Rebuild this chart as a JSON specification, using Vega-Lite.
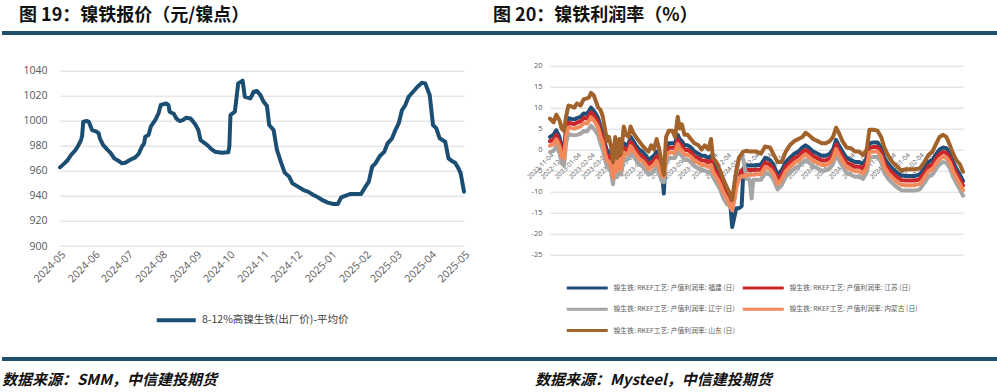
{
"$schema": "https://vega.github.io/schema/vega-lite/v6.json",
"background": "white",
"padding": {"left": 0, "top": 7, "right": 0, "bottom": 0},
"config": {
  "view": {"stroke": null},
  "font": "Open Sans, Noto Sans CJK SC, sans-serif",
  "axis": {"domain": false, "ticks": false, "gridColor": "#D9D9D9", "gridWidth": 1, "labelColor": "#595959", "title": null, "labelFlush": false, "labelOverlap": false}
},
"bounds": "flush",
"spacing": 32.7,
"vconcat": [
  {
    "hconcat": [
      {
        "width": 493, "height": 0,
        "title": {"text": "图 19：镍铁报价（元/镍点）", "anchor": "start", "dx": 19, "offset": 6, "fontSize": 18, "font": "Noto Sans CJK SC", "fontWeight": "bold", "color": "#111111"},
        "data": {"values": [{}]},
        "mark": {"type": "rule", "color": "#1F4E6E", "strokeWidth": 4},
        "encoding": {"y": {"datum": 0, "type": "quantitative", "axis": null}}
      },
      {
        "width": 504, "height": 0,
        "title": {"text": "图 20：镍铁利润率（%）", "anchor": "start", "offset": 6, "fontSize": 18, "font": "Noto Sans CJK SC", "fontWeight": "bold", "color": "#111111"},
        "data": {"values": [{}]},
        "mark": {"type": "rule", "color": "#1F4E6E", "strokeWidth": 4},
        "encoding": {"y": {"datum": 0, "type": "quantitative", "axis": null}}
      }
    ],
    "spacing": 0,
    "bounds": "flush"
  },
  {
    "bounds": "flush",
    "spacing": 293.3,
    "vconcat": [
      {
        "bounds": "flush",
        "spacing": 0,
        "hconcat": [
          {"width": 58, "height": 188.6, "data": {"values": []}, "mark": "point"},
          {
            "bounds": "flush",
            "spacing": 86,
            "resolve": {"scale": {"color": "independent"}, "legend": {"color": "independent"}},
            "hconcat": [
              {
                "width": 404, "height": 180.3,
                "data": {"values": [
{"d":"2024-05-01","v":962.8},{"d":"2024-05-05","v":966},{"d":"2024-05-08","v":968.7},{"d":"2024-05-11","v":972.7},{"d":"2024-05-15","v":976.7},{"d":"2024-05-17","v":979.3},{"d":"2024-05-20","v":984.6},{"d":"2024-05-21","v":988},{"d":"2024-05-22","v":999.3},{"d":"2024-05-25","v":999.8},{"d":"2024-05-27","v":999.3},{"d":"2024-05-30","v":992.6},{"d":"2024-06-03","v":991.3},{"d":"2024-06-05","v":990},{"d":"2024-06-06","v":986},{"d":"2024-06-09","v":980.6},{"d":"2024-06-13","v":976.7},{"d":"2024-06-16","v":974},{"d":"2024-06-19","v":970},{"d":"2024-06-23","v":967.9},{"d":"2024-06-26","v":966},{"d":"2024-06-29","v":966.5},{"d":"2024-07-03","v":968.7},{"d":"2024-07-08","v":970.8},{"d":"2024-07-11","v":973.5},{"d":"2024-07-14","v":979.3},{"d":"2024-07-16","v":982},{"d":"2024-07-17","v":987.3},{"d":"2024-07-20","v":988.6},{"d":"2024-07-22","v":995.3},{"d":"2024-07-26","v":1000.6},{"d":"2024-07-29","v":1005.9},{"d":"2024-07-31","v":1012.6},{"d":"2024-08-05","v":1013.9},{"d":"2024-08-07","v":1012.6},{"d":"2024-08-08","v":1007.3},{"d":"2024-08-12","v":1005.4},{"d":"2024-08-14","v":1001.9},{"d":"2024-08-17","v":999.8},{"d":"2024-08-20","v":1000.6},{"d":"2024-08-23","v":1002.5},{"d":"2024-08-27","v":1001.9},{"d":"2024-08-31","v":997.4},{"d":"2024-09-03","v":992.6},{"d":"2024-09-05","v":984.6},{"d":"2024-09-09","v":982},{"d":"2024-09-12","v":979.8},{"d":"2024-09-15","v":977.2},{"d":"2024-09-18","v":975.3},{"d":"2024-09-24","v":974.5},{"d":"2024-09-30","v":974.8},{"d":"2024-10-01","v":979.3},{"d":"2024-10-02","v":1004.6},{"d":"2024-10-06","v":1007.3},{"d":"2024-10-09","v":1029.9},{"d":"2024-10-13","v":1032},{"d":"2024-10-15","v":1019.2},{"d":"2024-10-20","v":1017.9},{"d":"2024-10-23","v":1023.2},{"d":"2024-10-26","v":1023.8},{"d":"2024-10-29","v":1020.6},{"d":"2024-11-01","v":1015.2},{"d":"2024-11-04","v":1011.8},{"d":"2024-11-06","v":996.6},{"d":"2024-11-10","v":992.6},{"d":"2024-11-13","v":976.7},{"d":"2024-11-17","v":966},{"d":"2024-11-20","v":958.6},{"d":"2024-11-24","v":955.4},{"d":"2024-11-27","v":950},{"d":"2024-12-02","v":947.4},{"d":"2024-12-07","v":944.7},{"d":"2024-12-11","v":943.4},{"d":"2024-12-16","v":940.7},{"d":"2024-12-20","v":938.9},{"d":"2024-12-25","v":936.2},{"d":"2024-12-29","v":934.6},{"d":"2025-01-03","v":933.5},{"d":"2025-01-07","v":933.5},{"d":"2025-01-10","v":938.9},{"d":"2025-01-13","v":939.9},{"d":"2025-01-18","v":941.5},{"d":"2025-01-22","v":941.5},{"d":"2025-01-28","v":941.5},{"d":"2025-01-31","v":946},{"d":"2025-02-04","v":951.4},{"d":"2025-02-07","v":963.3},{"d":"2025-02-10","v":966},{"d":"2025-02-14","v":971.9},{"d":"2025-02-18","v":975.3},{"d":"2025-02-21","v":982},{"d":"2025-02-25","v":986},{"d":"2025-02-28","v":992.6},{"d":"2025-03-03","v":997.9},{"d":"2025-03-06","v":1008.6},{"d":"2025-03-09","v":1012.6},{"d":"2025-03-12","v":1019.2},{"d":"2025-03-16","v":1023.2},{"d":"2025-03-20","v":1027.2},{"d":"2025-03-24","v":1030.4},{"d":"2025-03-27","v":1029.9},{"d":"2025-03-31","v":1020.6},{"d":"2025-04-03","v":996.6},{"d":"2025-04-06","v":994},{"d":"2025-04-09","v":986},{"d":"2025-04-14","v":983.3},{"d":"2025-04-17","v":970},{"d":"2025-04-20","v":967.9},{"d":"2025-04-23","v":966.5},{"d":"2025-04-26","v":962},{"d":"2025-04-28","v":958},{"d":"2025-05-01","v":943.4}
                ]},
                "mark": {"type": "line", "strokeWidth": 4, "strokeJoin": "round", "strokeCap": "round"},
                "encoding": {
                  "x": {"field": "d", "type": "temporal",
                    "scale": {"type": "utc", "domain": [{"year": 2024, "month": 5, "date": 1, "utc": true}, {"year": 2025, "month": 5, "date": 1, "utc": true}]},
                    "axis": {"grid": false, "format": "%Y-%m", "labelAngle": -45, "labelFontSize": 10.5, "labelPadding": 3,
                      "values": [{"year":2024,"month":5,"date":1,"utc":true},{"year":2024,"month":6,"date":1,"utc":true},{"year":2024,"month":7,"date":1,"utc":true},{"year":2024,"month":8,"date":1,"utc":true},{"year":2024,"month":9,"date":1,"utc":true},{"year":2024,"month":10,"date":1,"utc":true},{"year":2024,"month":11,"date":1,"utc":true},{"year":2024,"month":12,"date":1,"utc":true},{"year":2025,"month":1,"date":1,"utc":true},{"year":2025,"month":2,"date":1,"utc":true},{"year":2025,"month":3,"date":1,"utc":true},{"year":2025,"month":4,"date":1,"utc":true},{"year":2025,"month":5,"date":1,"utc":true}]}},
                  "y": {"field": "v", "type": "quantitative",
                    "scale": {"domain": [900, 1044], "nice": false, "zero": false},
                    "axis": {"values": [900, 920, 940, 960, 980, 1000, 1020, 1040], "format": "d", "labelFontSize": 10.5, "labelPadding": 13}},
                  "color": {"datum": "8-12%高镍生铁(出厂价)-平均价", "type": "nominal",
                    "scale": {"range": ["#1B4E73"]},
                    "legend": {"orient": "none", "legendX": 114, "legendY": 242.5, "title": null, "symbolType": "M-3,0H1", "symbolSize": 380, "symbolStrokeWidth": 4, "labelFontSize": 10.5, "labelColor": "#404040", "labelOffset": 4, "labelFont": "Noto Sans CJK SC"}}
                }
              },
              {
                "width": 413, "height": 188.6,
                "data": {"values": [
{"d":"2022-11-04","fj":3.0,"js":2.0,"ln":-0.6,"nm":0.9,"sd":7.4},
{"d":"2022-11-12","fj":3.5,"js":2.4,"ln":-0.3,"nm":1.3,"sd":6.5},
{"d":"2022-11-18","fj":4.6,"js":3.5,"ln":0.8,"nm":2.4,"sd":8.3},
{"d":"2022-11-25","fj":3.0,"js":1.9,"ln":-0.8,"nm":0.8,"sd":7.0},
{"d":"2022-11-30","fj":0.5,"js":-0.6,"ln":-3.3,"nm":-1.7,"sd":5.0},
{"d":"2022-12-05","fj":0.0,"js":-1.1,"ln":-3.8,"nm":-2.2,"sd":4.5},
{"d":"2022-12-10","fj":5.5,"js":4.4,"ln":1.7,"nm":3.3,"sd":8.0},
{"d":"2022-12-15","fj":7.5,"js":6.4,"ln":3.7,"nm":5.3,"sd":10.5},
{"d":"2022-12-22","fj":7.3,"js":6.2,"ln":3.5,"nm":5.1,"sd":10.3},
{"d":"2022-12-28","fj":7.2,"js":6.1,"ln":3.4,"nm":5.0,"sd":10.0},
{"d":"2023-01-03","fj":7.5,"js":6.4,"ln":3.5,"nm":5.2,"sd":11.0},
{"d":"2023-01-11","fj":7.8,"js":6.7,"ln":3.8,"nm":5.5,"sd":10.5},
{"d":"2023-01-18","fj":8.6,"js":7.5,"ln":4.4,"nm":6.3,"sd":12.0},
{"d":"2023-01-25","fj":8.5,"js":7.4,"ln":4.3,"nm":6.2,"sd":12.2},
{"d":"2023-01-30","fj":9.2,"js":8.1,"ln":5.0,"nm":6.9,"sd":12.5},
{"d":"2023-02-03","fj":10.0,"js":8.9,"ln":5.7,"nm":7.7,"sd":13.5},
{"d":"2023-02-09","fj":9.3,"js":8.2,"ln":5.0,"nm":7.0,"sd":13.0},
{"d":"2023-02-14","fj":8.5,"js":7.4,"ln":4.3,"nm":6.2,"sd":11.5},
{"d":"2023-02-19","fj":7.5,"js":6.4,"ln":3.4,"nm":5.2,"sd":10.0},
{"d":"2023-02-24","fj":5.5,"js":4.4,"ln":1.5,"nm":3.2,"sd":9.5},
{"d":"2023-03-01","fj":4.0,"js":2.9,"ln":0.1,"nm":1.7,"sd":8.0},
{"d":"2023-03-06","fj":1.5,"js":0.4,"ln":-2.3,"nm":-0.8,"sd":5.0},
{"d":"2023-03-11","fj":-0.5,"js":-1.6,"ln":-4.2,"nm":-2.8,"sd":2.0},
{"d":"2023-03-15","fj":-0.5,"js":-1.6,"ln":-4.1,"nm":-2.8,"sd":3.0},
{"d":"2023-03-20","fj":-2.0,"js":-3.1,"ln":-5.6,"nm":-4.3,"sd":0.5},
{"d":"2023-03-24","fj":-4.5,"js":-5.6,"ln":-8.3,"nm":-6.8,"sd":-3.0},
{"d":"2023-03-29","fj":-0.5,"js":-1.6,"ln":-4.0,"nm":-2.7,"sd":3.0},
{"d":"2023-04-02","fj":-3.0,"js":-4.1,"ln":-6.6,"nm":-5.2,"sd":-2.0},
{"d":"2023-04-07","fj":0.0,"js":-1.1,"ln":-3.5,"nm":-2.2,"sd":2.5},
{"d":"2023-04-11","fj":-2.5,"js":-3.6,"ln":-6.0,"nm":-4.7,"sd":-1.0},
{"d":"2023-04-17","fj":1.5,"js":0.4,"ln":-2.0,"nm":-0.7,"sd":5.5},
{"d":"2023-04-22","fj":1.0,"js":-0.1,"ln":-2.5,"nm":-1.2,"sd":3.5},
{"d":"2023-04-28","fj":1.5,"js":0.4,"ln":-2.0,"nm":-0.7,"sd":3.0},
{"d":"2023-05-02","fj":3.0,"js":1.9,"ln":-0.5,"nm":0.8,"sd":5.5},
{"d":"2023-05-08","fj":2.0,"js":0.9,"ln":-1.5,"nm":-0.2,"sd":4.0},
{"d":"2023-05-14","fj":1.0,"js":-0.1,"ln":-2.5,"nm":-1.2,"sd":3.0},
{"d":"2023-05-21","fj":0.0,"js":-1.1,"ln":-3.5,"nm":-2.2,"sd":2.0},
{"d":"2023-05-28","fj":-0.5,"js":-1.6,"ln":-4.0,"nm":-2.7,"sd":1.0},
{"d":"2023-06-05","fj":-1.5,"js":-2.6,"ln":-5.0,"nm":-3.7,"sd":0.0},
{"d":"2023-06-11","fj":-2.5,"js":-3.6,"ln":-6.0,"nm":-4.7,"sd":-0.5},
{"d":"2023-06-17","fj":-2.0,"js":-3.1,"ln":-5.5,"nm":-4.2,"sd":1.0},
{"d":"2023-06-23","fj":-1.5,"js":-2.6,"ln":-5.0,"nm":-3.7,"sd":0.0},
{"d":"2023-06-29","fj":-0.5,"js":-1.6,"ln":-4.0,"nm":-2.7,"sd":2.5},
{"d":"2023-07-04","fj":-2.0,"js":-3.1,"ln":-5.5,"nm":-4.2,"sd":0.5},
{"d":"2023-07-10","fj":-4.0,"js":-5.1,"ln":-7.5,"nm":-6.2,"sd":-3.0},
{"d":"2023-07-15","fj":-10.5,"js":-5.5,"ln":-7.8,"nm":-6.5,"sd":-6.0},
{"d":"2023-07-20","fj":0.5,"js":-0.6,"ln":-3.0,"nm":-1.7,"sd":3.0},
{"d":"2023-07-26","fj":1.5,"js":0.4,"ln":-2.0,"nm":-0.7,"sd":4.5},
{"d":"2023-08-03","fj":1.5,"js":0.4,"ln":-2.0,"nm":-0.7,"sd":4.5},
{"d":"2023-08-09","fj":1.5,"js":0.4,"ln":-2.0,"nm":-0.7,"sd":3.0},
{"d":"2023-08-15","fj":3.5,"js":2.4,"ln":0.0,"nm":1.3,"sd":7.8},
{"d":"2023-08-19","fj":2.5,"js":1.4,"ln":-1.0,"nm":0.3,"sd":5.0},
{"d":"2023-08-24","fj":2.0,"js":0.9,"ln":-1.5,"nm":-0.2,"sd":6.0},
{"d":"2023-08-30","fj":1.0,"js":-0.1,"ln":-2.5,"nm":-1.2,"sd":3.5},
{"d":"2023-09-06","fj":1.0,"js":-0.1,"ln":-2.5,"nm":-1.2,"sd":3.5},
{"d":"2023-09-13","fj":0.5,"js":-0.6,"ln":-3.0,"nm":-1.7,"sd":2.5},
{"d":"2023-09-21","fj":-0.5,"js":-1.6,"ln":-4.0,"nm":-2.7,"sd":1.5},
{"d":"2023-09-30","fj":-1.0,"js":-2.1,"ln":-4.5,"nm":-3.2,"sd":1.0},
{"d":"2023-10-07","fj":-1.5,"js":-2.6,"ln":-5.0,"nm":-3.7,"sd":0.0},
{"d":"2023-10-14","fj":-1.5,"js":-2.6,"ln":-5.0,"nm":-3.7,"sd":1.0},
{"d":"2023-10-22","fj":-2.0,"js":-3.1,"ln":-5.5,"nm":-4.2,"sd":0.0},
{"d":"2023-10-28","fj":-1.5,"js":-2.6,"ln":-5.0,"nm":-3.7,"sd":2.5},
{"d":"2023-11-01","fj":-3.0,"js":-4.1,"ln":-6.5,"nm":-5.2,"sd":-2.0},
{"d":"2023-11-09","fj":-4.5,"js":-5.6,"ln":-8.0,"nm":-6.7,"sd":-3.0},
{"d":"2023-11-17","fj":-6.0,"js":-7.1,"ln":-9.5,"nm":-8.2,"sd":-5.0},
{"d":"2023-11-24","fj":-8.0,"js":-9.1,"ln":-11.5,"nm":-10.2,"sd":-7.0},
{"d":"2023-12-02","fj":-9.5,"js":-10.6,"ln":-13.0,"nm":-11.7,"sd":-9.0},
{"d":"2023-12-09","fj":-12.0,"js":-12.0,"ln":-13.5,"nm":-13.5,"sd":-10.5},
{"d":"2023-12-14","fj":-18.5,"js":-12.5,"ln":-13.5,"nm":-14.5,"sd":-12.0},
{"d":"2023-12-19","fj":-16.0,"js":-11.0,"ln":-10.5,"nm":-12.0,"sd":-8.0},
{"d":"2023-12-23","fj":-14.0,"js":-8.0,"ln":-6.0,"nm":-9.0,"sd":-5.0},
{"d":"2023-12-29","fj":-14.0,"js":-6.0,"ln":-2.0,"nm":-7.0,"sd":-2.0},
{"d":"2024-01-04","fj":-13.5,"js":-5.0,"ln":-1.5,"nm":-6.3,"sd":-1.0},
{"d":"2024-01-08","fj":-4.5,"js":-5.5,"ln":-2.5,"nm":-6.5,"sd":-0.5},
{"d":"2024-01-15","fj":-3.8,"js":-4.9,"ln":-7.0,"nm":-6.0,"sd":-0.3},
{"d":"2024-01-22","fj":-3.8,"js":-4.9,"ln":-7.3,"nm":-6.0,"sd":-0.5},
{"d":"2024-01-26","fj":-3.8,"js":-4.9,"ln":-11.7,"nm":-6.0,"sd":-0.5},
{"d":"2024-01-30","fj":-3.8,"js":-4.9,"ln":-7.2,"nm":-6.0,"sd":-0.5},
{"d":"2024-02-06","fj":-3.7,"js":-4.8,"ln":-7.2,"nm":-5.9,"sd":-0.5},
{"d":"2024-02-16","fj":-3.7,"js":-4.8,"ln":-7.2,"nm":-5.9,"sd":-1.0},
{"d":"2024-02-25","fj":-2.0,"js":-3.1,"ln":-5.5,"nm":-4.2,"sd":0.7},
{"d":"2024-03-07","fj":-2.5,"js":-3.6,"ln":-6.0,"nm":-4.7,"sd":0.5},
{"d":"2024-03-14","fj":-3.5,"js":-4.6,"ln":-7.0,"nm":-5.7,"sd":-1.0},
{"d":"2024-03-24","fj":-6.0,"js":-7.1,"ln":-9.5,"nm":-8.2,"sd":-3.0},
{"d":"2024-04-02","fj":-5.0,"js":-6.1,"ln":-8.5,"nm":-7.2,"sd":-3.0},
{"d":"2024-04-11","fj":-3.0,"js":-4.1,"ln":-6.5,"nm":-5.2,"sd":-0.5},
{"d":"2024-04-20","fj":-2.0,"js":-3.1,"ln":-5.5,"nm":-4.2,"sd":1.0},
{"d":"2024-04-30","fj":-1.0,"js":-2.1,"ln":-4.5,"nm":-3.2,"sd":2.0},
{"d":"2024-05-09","fj":-0.5,"js":-1.6,"ln":-4.0,"nm":-2.7,"sd":2.5},
{"d":"2024-05-18","fj":0.5,"js":-0.6,"ln":-3.0,"nm":-1.7,"sd":3.0},
{"d":"2024-05-25","fj":1.0,"js":-0.1,"ln":-2.5,"nm":-1.2,"sd":4.0},
{"d":"2024-06-01","fj":0.5,"js":-0.6,"ln":-3.0,"nm":-1.7,"sd":3.5},
{"d":"2024-06-11","fj":-0.5,"js":-1.6,"ln":-4.0,"nm":-2.7,"sd":2.5},
{"d":"2024-06-21","fj":-1.0,"js":-2.1,"ln":-4.5,"nm":-3.2,"sd":2.0},
{"d":"2024-06-30","fj":-1.5,"js":-2.6,"ln":-5.0,"nm":-3.7,"sd":1.5},
{"d":"2024-07-09","fj":-1.5,"js":-2.6,"ln":-5.0,"nm":-3.7,"sd":1.5},
{"d":"2024-07-18","fj":-1.0,"js":-2.1,"ln":-4.5,"nm":-3.2,"sd":2.0},
{"d":"2024-07-25","fj":0.0,"js":-1.1,"ln":-3.5,"nm":-2.2,"sd":3.0},
{"d":"2024-08-01","fj":2.3,"js":1.2,"ln":-1.2,"nm":0.1,"sd":5.2},
{"d":"2024-08-07","fj":1.0,"js":-0.1,"ln":-2.5,"nm":-1.2,"sd":4.0},
{"d":"2024-08-15","fj":-0.5,"js":-1.6,"ln":-4.0,"nm":-2.7,"sd":2.0},
{"d":"2024-08-24","fj":-2.0,"js":-3.1,"ln":-5.5,"nm":-4.2,"sd":0.5},
{"d":"2024-09-03","fj":-2.5,"js":-3.6,"ln":-6.0,"nm":-4.7,"sd":0.3},
{"d":"2024-09-12","fj":-3.0,"js":-4.1,"ln":-6.5,"nm":-5.2,"sd":-0.5},
{"d":"2024-09-21","fj":-3.0,"js":-4.1,"ln":-6.5,"nm":-5.2,"sd":-0.5},
{"d":"2024-09-30","fj":-3.5,"js":-4.6,"ln":-7.0,"nm":-5.7,"sd":-1.3},
{"d":"2024-10-08","fj":-2.0,"js":-3.1,"ln":-5.5,"nm":-4.2,"sd":0.0},
{"d":"2024-10-14","fj":1.5,"js":0.4,"ln":-2.0,"nm":-0.7,"sd":4.7},
{"d":"2024-10-23","fj":1.7,"js":0.6,"ln":-1.8,"nm":-0.5,"sd":4.7},
{"d":"2024-11-01","fj":1.7,"js":0.6,"ln":-1.8,"nm":-0.5,"sd":4.5},
{"d":"2024-11-09","fj":0.5,"js":-0.6,"ln":-3.0,"nm":-1.7,"sd":3.0},
{"d":"2024-11-16","fj":-2.0,"js":-3.1,"ln":-5.5,"nm":-4.2,"sd":0.5},
{"d":"2024-11-25","fj":-3.5,"js":-4.6,"ln":-7.0,"nm":-5.7,"sd":-1.5},
{"d":"2024-12-04","fj":-4.5,"js":-5.6,"ln":-8.0,"nm":-6.7,"sd":-3.0},
{"d":"2024-12-14","fj":-5.5,"js":-6.6,"ln":-9.0,"nm":-7.7,"sd":-4.0},
{"d":"2024-12-24","fj":-6.2,"js":-7.3,"ln":-9.7,"nm":-8.4,"sd":-5.0},
{"d":"2025-01-03","fj":-6.3,"js":-7.4,"ln":-9.8,"nm":-8.5,"sd":-4.7},
{"d":"2025-01-12","fj":-6.3,"js":-7.4,"ln":-9.8,"nm":-8.5,"sd":-4.7},
{"d":"2025-01-23","fj":-6.3,"js":-7.4,"ln":-9.8,"nm":-8.5,"sd":-4.7},
{"d":"2025-02-03","fj":-6.0,"js":-7.1,"ln":-9.5,"nm":-8.2,"sd":-4.5},
{"d":"2025-02-13","fj":-4.5,"js":-5.6,"ln":-8.0,"nm":-6.7,"sd":-3.0},
{"d":"2025-02-22","fj":-3.0,"js":-4.1,"ln":-6.5,"nm":-5.2,"sd":-1.3},
{"d":"2025-03-03","fj":-2.5,"js":-3.6,"ln":-6.0,"nm":-4.7,"sd":-0.5},
{"d":"2025-03-12","fj":-1.0,"js":-2.1,"ln":-4.5,"nm":-3.2,"sd":1.5},
{"d":"2025-03-19","fj":0.0,"js":-1.1,"ln":-3.5,"nm":-2.2,"sd":3.0},
{"d":"2025-03-27","fj":0.5,"js":-0.6,"ln":-3.0,"nm":-1.7,"sd":3.5},
{"d":"2025-04-03","fj":0.3,"js":-0.8,"ln":-3.2,"nm":-1.9,"sd":3.0},
{"d":"2025-04-11","fj":-1.0,"js":-2.1,"ln":-4.5,"nm":-3.2,"sd":1.0},
{"d":"2025-04-18","fj":-3.0,"js":-4.1,"ln":-6.5,"nm":-5.2,"sd":-1.0},
{"d":"2025-04-25","fj":-4.5,"js":-5.6,"ln":-8.0,"nm":-6.7,"sd":-2.5},
{"d":"2025-05-03","fj":-6.0,"js":-7.1,"ln":-9.5,"nm":-8.2,"sd":-3.5},
{"d":"2025-05-10","fj":-7.5,"js":-8.6,"ln":-11.0,"nm":-9.7,"sd":-5.3}
                ]},
                "transform": [{"fold": ["fj", "js", "ln", "nm", "sd"], "as": ["k", "v"]}],
                "mark": {"type": "line", "strokeWidth": 4, "strokeJoin": "round", "strokeCap": "round"},
                "encoding": {
                  "x": {"field": "d", "type": "temporal",
                    "scale": {"type": "utc", "domain": [{"year": 2022, "month": 11, "date": 4, "utc": true}, {"year": 2025, "month": 5, "date": 10, "utc": true}]},
                    "axis": {"grid": false, "format": "%Y-%m-%d", "labelAngle": -45, "labelFontSize": 6.5, "labelPadding": 2, "offset": -104.8, "zindex": 0,
                      "values": [{"year":2022,"month":11,"date":4,"utc":true},{"year":2022,"month":12,"date":4,"utc":true},{"year":2023,"month":1,"date":4,"utc":true},{"year":2023,"month":2,"date":4,"utc":true},{"year":2023,"month":3,"date":4,"utc":true},{"year":2023,"month":4,"date":4,"utc":true},{"year":2023,"month":5,"date":4,"utc":true},{"year":2023,"month":6,"date":4,"utc":true},{"year":2023,"month":7,"date":4,"utc":true},{"year":2023,"month":8,"date":4,"utc":true},{"year":2023,"month":9,"date":4,"utc":true},{"year":2023,"month":10,"date":4,"utc":true},{"year":2023,"month":11,"date":4,"utc":true},{"year":2023,"month":12,"date":4,"utc":true},{"year":2024,"month":1,"date":4,"utc":true},{"year":2024,"month":2,"date":4,"utc":true},{"year":2024,"month":3,"date":4,"utc":true},{"year":2024,"month":4,"date":4,"utc":true},{"year":2024,"month":5,"date":4,"utc":true},{"year":2024,"month":6,"date":4,"utc":true},{"year":2024,"month":7,"date":4,"utc":true},{"year":2024,"month":8,"date":4,"utc":true},{"year":2024,"month":9,"date":4,"utc":true},{"year":2024,"month":10,"date":4,"utc":true},{"year":2024,"month":11,"date":4,"utc":true},{"year":2024,"month":12,"date":4,"utc":true},{"year":2025,"month":1,"date":4,"utc":true},{"year":2025,"month":2,"date":4,"utc":true},{"year":2025,"month":3,"date":4,"utc":true},{"year":2025,"month":4,"date":4,"utc":true}]}},
                  "y": {"field": "v", "type": "quantitative",
                    "scale": {"domain": [-25, 20], "nice": false, "zero": false},
                    "axis": {"values": [-25, -20, -15, -10, -5, 0, 5, 10, 15, 20], "labelFontSize": 7.5, "labelPadding": 8, "labelExpr": "'' + datum.value"}},
                  "color": {"field": "k", "type": "nominal",
                    "scale": {"domain": ["fj", "js", "ln", "nm", "sd"], "range": ["#1F4E79", "#C9262C", "#A5A5A5", "#F28A5B", "#A2622B"]},
                    "legend": {"orient": "none", "legendX": 35.5, "legendY": 210.25, "columns": 2, "direction": "horizontal", "title": null, "symbolType": "M-3,0H1", "symbolSize": 420, "symbolStrokeWidth": 3, "labelFontSize": 6.8, "labelColor": "#595959", "labelOffset": 4, "columnPadding": 1, "rowPadding": 3.3, "labelFont": "Noto Sans CJK SC",
                      "labelExpr": "{'fj':'镍生铁: RKEF工艺: 产值利润率: 福建 (日)','js':'镍生铁: RKEF工艺: 产值利润率: 江苏 (日)','ln':'镍生铁: RKEF工艺: 产值利润率: 辽宁 (日)','nm':'镍生铁: RKEF工艺: 产值利润率: 内蒙古 (日)','sd':'镍生铁: RKEF工艺: 产值利润率: 山东 (日)'}[datum.label]"}}
                }
              }
            ]
          }
        ]
      },
      {
        "bounds": "flush",
        "spacing": 30,
        "vconcat": [
          {
            "hconcat": [
              {
                "width": 533, "height": 0,
                "data": {"values": [{}]},
                "mark": {"type": "rule", "color": "#1F4E6E", "strokeWidth": 4},
                "encoding": {"y": {"datum": 0, "type": "quantitative", "axis": null}}
              },
              {
                "width": 464, "height": 0,
                "data": {"values": [{}]},
                "mark": {"type": "rule", "color": "#1F4E6E", "strokeWidth": 4},
                "encoding": {"y": {"datum": 0, "type": "quantitative", "axis": null}}
              }
            ],
            "spacing": 0,
            "bounds": "flush"
          },
          {
            "hconcat": [
              {
                "width": 533, "height": 0,
                "title": {"text": "数据来源：SMM，中信建投期货", "anchor": "start", "offset": 1, "fontSize": 15, "font": "Noto Sans CJK SC", "fontStyle": "italic", "fontWeight": "bold", "color": "#111111"},
                "data": {"values": []},
                "mark": "point"
              },
              {
                "width": 464, "height": 0,
                "title": {"text": "数据来源：Mysteel，中信建投期货", "anchor": "start", "offset": 1, "fontSize": 15, "font": "Noto Sans CJK SC", "fontStyle": "italic", "fontWeight": "bold", "color": "#111111"},
                "data": {"values": []},
                "mark": "point"
              }
            ],
            "spacing": 0,
            "bounds": "flush"
          }
        ]
      }
    ]
  }
]
}
